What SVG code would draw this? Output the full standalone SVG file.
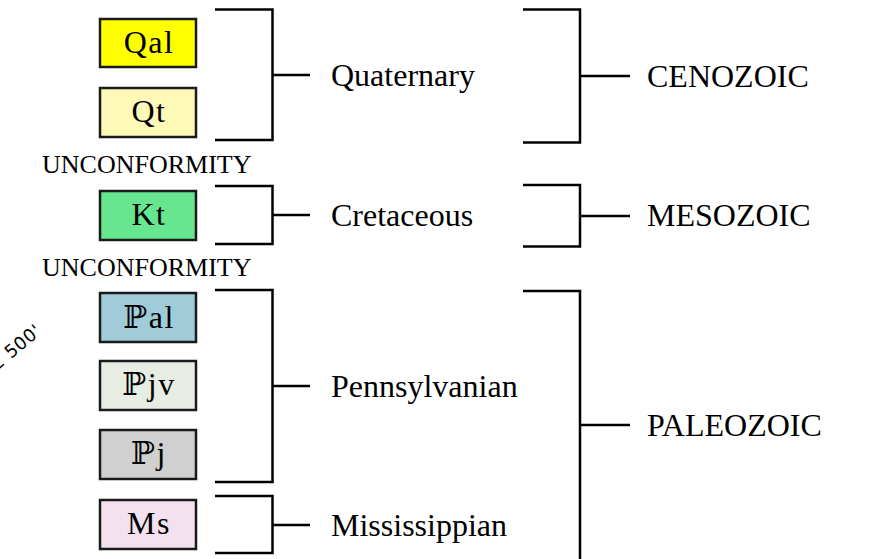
<svg xmlns="http://www.w3.org/2000/svg" width="880" height="559" viewBox="0 0 880 559">
<style>
.box{stroke:#1a1a1a;stroke-width:2.5}
.bt{font-family:"Liberation Serif","DejaVu Serif",serif;font-size:32px;fill:#000;text-anchor:middle;letter-spacing:1.5px}
.lbl{font-family:"Liberation Serif",serif;font-size:32px;fill:#000}
.unc{font-family:"Liberation Serif",serif;font-size:26px;fill:#000}
.br{fill:none;stroke:#000;stroke-width:2.5}
</style>
<rect width="880" height="559" fill="#fff"/>
<text x="0" y="0" transform="translate(-3,371) rotate(-40)" font-family="DejaVu Sans,sans-serif" font-size="18" letter-spacing="0.5" fill="#000">2 500'</text>
<g id="Qal"><rect class="box" x="100" y="19" width="96" height="48" fill="#ffff00"/><text class="bt" x="149" y="53">Qal</text></g>
<g id="Qt"><rect class="box" x="100" y="88" width="96" height="49" fill="#fff9b8"/><text class="bt" x="149" y="122">Qt</text></g>
<text class="unc" x="42" y="173">UNCONFORMITY</text>
<g id="Kt"><rect class="box" x="100" y="191" width="96" height="49" fill="#66e68f"/><text class="bt" x="149" y="225">Kt</text></g>
<text class="unc" x="42" y="276">UNCONFORMITY</text>
<g id="Pal"><rect class="box" x="100" y="293" width="96" height="49" fill="#a0ccda"/><text class="bt" x="149" y="328">ℙal</text></g>
<g id="Pjv"><rect class="box" x="100" y="361" width="96" height="49" fill="#e8ede4"/><text class="bt" x="149" y="395">ℙjv</text></g>
<g id="Pj"><rect class="box" x="100" y="430" width="96" height="49" fill="#d0d0d0"/><text class="bt" x="149" y="464">ℙj</text></g>
<g id="Ms"><rect class="box" x="100" y="500" width="96" height="49" fill="#f4e1f0"/><text class="bt" x="149" y="534">Ms</text></g>
<g id="connectors">
<path class="br" d="M215 9.5H272.5V140H215M272.5 75H310"/>
<path class="br" d="M215 186H272.5V244H215M272.5 215H310"/>
<path class="br" d="M215 290H272.5V482H215M272.5 386H310"/>
<path class="br" d="M215 496H272.5V553H215M272.5 525H310"/>
<path class="br" d="M523 9.5H580V142.5H523M580 76H630"/>
<path class="br" d="M523 185H580V246.5H523M580 216H630"/>
<path class="br" d="M523 291H580V560M580 425H630"/>
</g>
<g id="Quaternary"><text class="lbl" x="331" y="86">Quaternary</text></g>
<g id="Cretaceous"><text class="lbl" x="331" y="226">Cretaceous</text></g>
<g id="Pennsylvanian"><text class="lbl" x="331" y="397">Pennsylvanian</text></g>
<g id="Mississippian"><text class="lbl" x="331" y="536">Mississippian</text></g>
<g id="CENOZOIC"><text class="lbl" x="647" y="87">CENOZOIC</text></g>
<g id="MESOZOIC"><text class="lbl" x="647" y="226">MESOZOIC</text></g>
<g id="PALEOZOIC"><text class="lbl" x="647" y="436">PALEOZOIC</text></g>
</svg>
